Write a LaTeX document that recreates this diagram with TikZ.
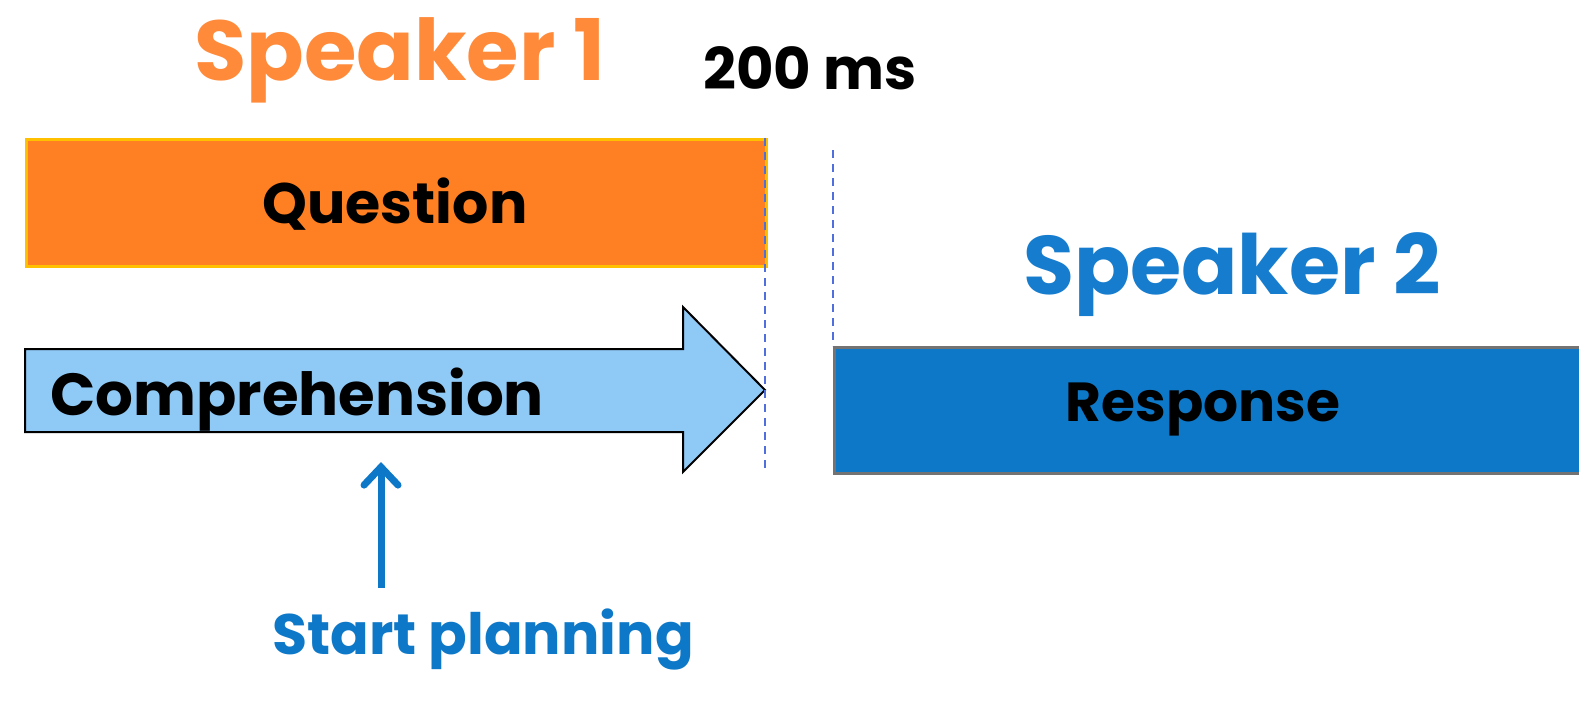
\documentclass[tikz,border=0pt]{standalone}
\usepackage{fontspec}
\usetikzlibrary{arrows.meta}
\setmainfont{Poppins}
\definecolor{qorange}{RGB}{255,128,34}
\definecolor{qborder}{RGB}{255,192,0}
\definecolor{sorange}{RGB}{255,138,58}
\definecolor{lblue}{RGB}{143,201,245}
\definecolor{rblue}{RGB}{14,120,200}
\definecolor{sblue}{RGB}{22,124,206}
\definecolor{dashblue}{RGB}{80,110,220}
\tikzset{
  lbl/.style={inner sep=0pt, font=\bfseries\fontsize{#1}{#1}\selectfont},
  guide/.style={draw=dashblue, line width=1.2pt, dash pattern=on 4pt off 3pt},
}
\begin{document}
\begin{tikzpicture}[x=0.5pt,y=-0.5pt]
\useasboundingbox (0,0) rectangle (1579,701);
\clip (0,0) rectangle (1579,701);
% Question box
\node[draw=qborder, fill=qorange, line width=1.5pt, anchor=north west, minimum width=370pt, minimum height=63.5pt, inner sep=0pt] (q) at (25,138) {};
\node[lbl=28.5, anchor=center] (qt) at (395,204) {Question};
% Comprehension arrow
\draw[fill=lblue, draw=black, line width=1pt] (25,349) -- (683,349) -- (683,307) -- (765,390) -- (683,472) -- (683,432) -- (25,432) -- cycle;
\node[lbl=29.7, anchor=west] (ct) at (50,400) {Comprehension};
% Response box
\node[draw=gray!90!black, fill=rblue, line width=1.5pt, anchor=north west, minimum width=380pt, minimum height=63pt, inner sep=0pt] (r) at (833,346) {};
\node[lbl=27.5, anchor=center] (rt) at (1203,410) {Response};
% dashed guides
\coordinate (g1t) at (765,138);
\coordinate (g1b) at (765,472);
\coordinate (g2t) at (833,150);
\draw[guide] (g1t) -- (g1b);
\draw[guide] (g2t) -- (r.north west);
% titles
\node[lbl=42.5, text=sorange] (s1) at (400,60) {Speaker 1};
\node[lbl=28.8, text=black] (ms) at (810,68) {200 ms};
\node[lbl=41.5, text=sblue] (s2) at (1232,275) {Speaker 2};
% start planning
\node[lbl=28.5, text=rblue] (sp) at (483,640) {Start planning};
\coordinate (pa) at (381,588);
\coordinate (pb) at (381,462);
\draw[rblue, line width=3.5pt, -{Straight Barb[length=9pt,width=17pt,line cap=round]}] (pa) -- (pb);
\end{tikzpicture}
\end{document}
